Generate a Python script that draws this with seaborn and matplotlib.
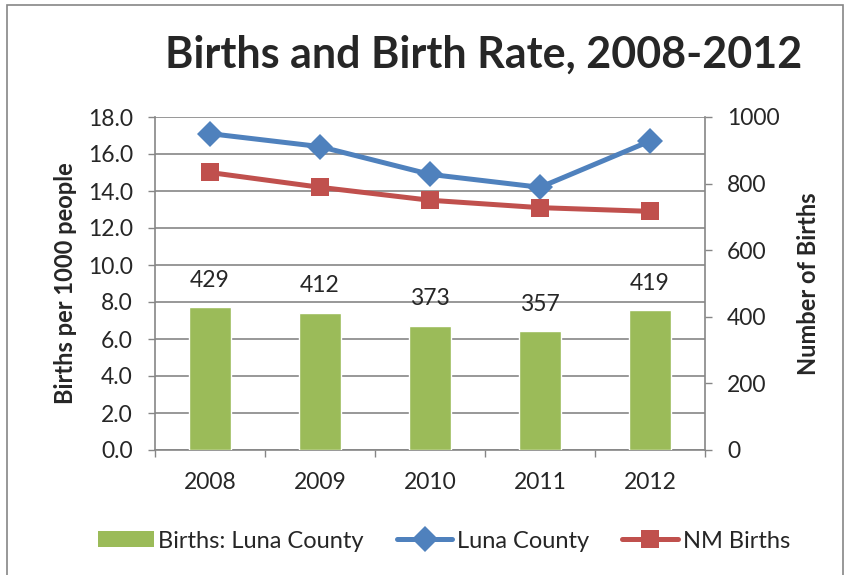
import matplotlib
matplotlib.use("Agg")
import matplotlib.pyplot as plt
import seaborn as sns
import numpy as np
import pandas as pd
from matplotlib.patches import Rectangle
from matplotlib.lines import Line2D
from matplotlib.patches import Patch

years = ["2008", "2009", "2010", "2011", "2012"]
births_luna = [429, 412, 373, 357, 419]
rate_luna = [17.1, 16.4, 14.9, 14.2, 16.7]
rate_nm = [15.0, 14.2, 13.5, 13.1, 12.9]
left_ticks = [0, 2, 4, 6, 8, 10, 12, 14, 16, 18]
right_ticks = [0, 200, 400, 600, 800, 1000]

sns.set_theme(style="white")
plt.rcParams['font.family'] = ['Lato', 'DejaVu Sans']

GREEN = "#9BBB59"
BLUE = "#4F81BD"
RED = "#C0504D"
GRAY = "#868686"
FS = 16.5

fig = plt.figure(figsize=(8.46, 5.75), dpi=100)
ax = fig.add_axes([155/846, 1-450/575, 550/846, 333/575])
ax_bar = ax.twinx()
ax_line = ax.twinx()

df = pd.DataFrame({"year": years, "births": births_luna,
                   "luna": rate_luna, "nm": rate_nm})

sns.barplot(data=df, x="year", y="births", ax=ax_bar, color=GREEN,
            width=0.39, saturation=1)
sns.lineplot(data=df, x="year", y="luna", ax=ax_line, color=BLUE,
             marker="D", markersize=13, linewidth=3.6, markeredgewidth=0,
             sort=False)
sns.lineplot(data=df, x="year", y="nm", ax=ax_line, color=RED,
             marker="s", markersize=13, linewidth=3.6, markeredgewidth=0,
             sort=False)

for a in (ax, ax_bar, ax_line):
    a.set_xlim(-0.5, 4.5)

ax.set_ylim(0, 18)
ax_line.set_ylim(0, 18)
ax_bar.set_ylim(0, 1000)

# grid on left axis
ax.set_yticks(left_ticks)
ax.set_yticklabels([f"{v:.1f}" for v in left_ticks], fontsize=FS)
ax.yaxis.grid(True, color=GRAY, linewidth=1.2)
ax.tick_params(axis="y", which="major", direction="out", length=5,
               color=GRAY, width=1, left=True, pad=11)

ax_bar.set_yticks(right_ticks)
ax_bar.set_yticklabels([str(v) for v in right_ticks], fontsize=FS)
ax_bar.tick_params(axis="y", direction="out", length=5, color=GRAY,
                   width=1, right=True, pad=11)
ax_bar.set_xlabel("")
ax_bar.set_ylabel("")

ax_line.set_yticks([])
ax_line.set_xlabel("")
ax_line.set_ylabel("")
for s in ax_line.spines.values():
    s.set_visible(False)
ax_line.tick_params(bottom=False, labelbottom=False)
ax_bar.tick_params(axis="x", bottom=False, labelbottom=False)
for s in ax_bar.spines.values():
    s.set_visible(False)
ax_bar.spines["right"].set_visible(True)
ax_bar.spines["right"].set_color(GRAY)
ax_bar.spines["right"].set_linewidth(1.2)

# x axis
ax.set_xticks(np.arange(-0.5, 5, 1.0))
ax.set_xticklabels([])
ax.set_xticks(np.arange(len(years)), minor=True)
ax.set_xticklabels(years, minor=True, fontsize=FS)
ax.tick_params(axis="x", which="major", direction="out", length=5,
               color=GRAY, width=1, bottom=True)
ax.tick_params(axis="x", which="minor", length=0, pad=16)

for side in ("top", "right"):
    ax.spines[side].set_visible(False)
for side in ("left", "bottom"):
    ax.spines[side].set_color(GRAY)
    ax.spines[side].set_linewidth(1.2)

ax.set_ylabel("Births per 1000 people", fontsize=17, fontweight="bold",
              labelpad=8)
ax_bar.set_ylabel("Number of Births", fontsize=17, fontweight="bold",
                  labelpad=12)

# data labels
for i, c in enumerate(ax_bar.containers[0]):
    ax_bar.annotate(str(births_luna[i]),
                    (c.get_x() + c.get_width() / 2, c.get_height()),
                    xytext=(0, 19.5), textcoords="offset points",
                    ha="center", va="center", fontsize=FS)

fig.text(484/846, 1-55/575, "Births and Birth Rate, 2008-2012",
         ha="center", va="center", fontsize=31, fontweight="bold")

handles = [Patch(facecolor=GREEN, edgecolor="none"),
           Line2D([], [], color=BLUE, marker="D", markersize=13,
                  linewidth=3.6, markeredgewidth=0),
           Line2D([], [], color=RED, marker="s", markersize=13,
                  linewidth=3.6, markeredgewidth=0)]
labels = ["Births: Luna County", "Luna County", "NM Births"]
fig.legend(handles, labels, loc="center", bbox_to_anchor=(444/846, 1-541/575),
           ncol=3, frameon=False, fontsize=17, handlelength=2.35,
           columnspacing=1.4, handletextpad=0.2, handleheight=0.65)

fig.patches.append(Rectangle((7/846, -0.1), (843-7)/846, 1.1-5/575,
                             transform=fig.transFigure, fill=False,
                             edgecolor=GRAY, linewidth=1.2))

fig.savefig("out.png", dpi=100)
